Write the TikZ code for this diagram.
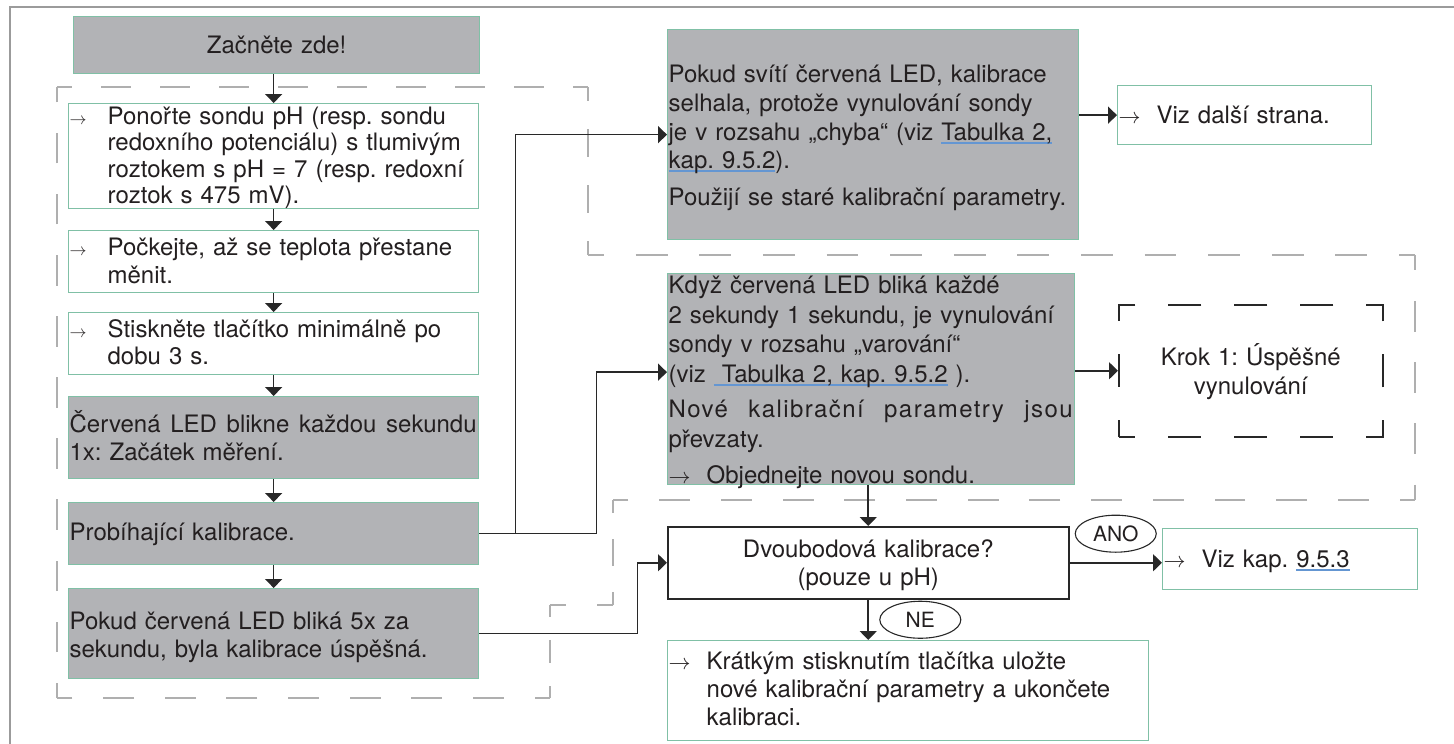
\documentclass[tikz,border=0pt]{standalone}
\usepackage{graphicx}
\usepackage{fontspec}
\setmainfont{TeX Gyre Heros}
\usetikzlibrary{arrows.meta,shapes.geometric}

\definecolor{boxgray}{RGB}{178,179,182}
\definecolor{boxgreen}{RGB}{128,192,166}
\definecolor{textdark}{RGB}{35,31,32}
\definecolor{lineblack}{RGB}{40,40,40}
\definecolor{framegray}{RGB}{155,155,155}
\definecolor{dashgray}{RGB}{175,175,175}
\definecolor{linkblue}{RGB}{100,150,210}

\newsavebox{\linkbox}
\newcommand{\boxfont}[1]{\fontsize{24}{#1}\selectfont}
\newcommand{\hangarr}[1]{\makebox[38pt][l]{\scalebox{#1}{\fontsize{10}{10}\selectfont$\rightarrow$}}}
\newcommand{\bluline}[1]{\leavevmode\sbox{\linkbox}{#1}\rlap{\textcolor{linkblue}{\rule[-3.5pt]{\wd\linkbox}{1.8pt}}}\usebox{\linkbox}}

\begin{document}
\frenchspacing
\begin{tikzpicture}[x=1pt,y=-1pt,
		stepbox/.style={draw=boxgreen, line width=1.3pt, fill=white, anchor=north west, inner xsep=1pt, inner ysep=0pt, align=left, text=textdark},
		graybox/.style={stepbox, fill=boxgray},
		askbox/.style={draw=lineblack, line width=1.5pt, fill=white, anchor=north west, inner sep=0pt, align=center, text=textdark},
		dashbox/.style={draw=lineblack, line width=1.5pt, dash pattern=on 33pt off 33pt, dash phase=16.5pt, anchor=north west, inner sep=0pt, align=center, text=textdark},
		groupline/.style={dashgray, line width=1.2pt},
		conn/.style={draw=lineblack, line width=1.6pt, -{Triangle[length=9pt,width=17pt]}},
		answer/.style={ellipse, draw=lineblack, line width=1.1pt, fill=white, inner sep=0pt, minimum width=81pt, minimum height=37pt, text=textdark, font=\fontsize{21}{21}\selectfont}]
		\useasboundingbox (0,0) rectangle (1454,744);
		
		% Draw frame and group outline.
		\draw[framegray, line width=2.5pt] (10,744) -- (10,7) -- (1454,7);
		\foreach \xa/\ya/\xb/\yb in {57/87/588/87, 588/87/588/255, 588/255/1415/255, 1415/255/1415/500, 1415/500/613/500, 613/500/613/605, 613/605/550/605, 550/605/550/698, 550/698/57/698, 57/698/57/87}{
			\pgfmathsetmacro{\len}{veclen(\xb-\xa,\yb-\ya)}
			\pgfmathsetmacro{\half}{\len/max(1,round(\len/62))/2}
			\pgfmathsetmacro{\quart}{\half/2}
			\draw[groupline, dash pattern=on \half pt off \half pt, dash phase=\quart pt] (\xa,\ya) -- (\xb,\yb);
		}
		
		% Left column.
		\node[graybox, text width=404pt, text height=37pt, text depth=20pt, align=center, font=\boxfont{27}] (start) at (73,16) {Začněte zde!};
		\node[stepbox, text width=408pt, text height=21pt, text depth=84pt, font=\boxfont{26.3}] (ponor) at (68,103) {\hangarr{1.7}\parbox[t]{368pt}{Ponořte sondu pH (resp. sondu\\redoxního potenciálu) s tlumivým\\roztokem s pH = 7 (resp. redoxní\\roztok s 475 mV).}};
		\node[stepbox, text width=408pt, text height=25pt, text depth=37pt, font=\boxfont{28}] (cekej) at (68,230) {\hangarr{1.7}\parbox[t]{368pt}{Počkejte, až se teplota přestane\\měnit.}};
		\node[stepbox, text width=408pt, text height=25pt, text depth=37pt, font=\boxfont{27}] (stisk) at (68,312) {\hangarr{1.7}\parbox[t]{368pt}{Stiskněte tlačítko minimálně po\\dobu 3 s.}};
		\node[graybox, text width=408pt, text height=36pt, text depth=46pt, font=\boxfont{28}] (blik) at (68,396) {\makebox[407pt][s]{Červená\hfill LED\hfill blikne\hfill každou\hfill sekundu}\\1x: Začátek měření.};
		\node[graybox, text width=408pt, text height=38pt, text depth=24pt, font=\boxfont{28}] (probiha) at (68,502) {Probíhající kalibrace.};
		\node[graybox, text width=408pt, text height=41pt, text depth=49pt, font=\boxfont{28}] (uspech) at (68,588) {Pokud červená LED bliká 5x za\\sekundu, byla kalibrace úspěšná.};
		
		% Right side.
		\node[graybox, text width=409pt, text height=53pt, text depth=157pt, font=\boxfont{28.7}] (chyba) at (667,29) {Pokud svítí červená LED, kalibrace\\selhala, protože vynulování sondy\\je v rozsahu „chyba“ (viz \bluline{Tabulka 2,}\\\bluline{kap. 9.5.2}).\\[8pt]Použijí se staré kalibrační parametry.};
		\node[stepbox, text width=252pt, text height=38pt, text depth=21pt, font=\boxfont{27}] (dalsi) at (1117,85) {\hangarr{2.2}Viz další strana.};
		\node[graybox, text width=405pt, text height=20pt, text depth=191pt, font=\boxfont{29.5}] (varov) at (667,273) {Když červená LED bliká každé\\2 sekundy 1 sekundu, je vynulování\\sondy v rozsahu „varování“\\(viz\ \bluline{\ Tabulka 2, kap. 9.5.2}\ ).\\[6pt]\makebox[404pt][s]{\addfontfeature{LetterSpace=6}Nové\hfill kalibrační\hfill parametry\hfill jsou}\\převzaty.\\[7pt]\hangarr{2.2}Objednejte novou sondu.};
		\node[dashbox, text width=264pt, text height=61pt, text depth=71pt, font=\boxfont{29}] (krok) at (1118,304) {Krok 1: Úspěšné\\vynulování};
		\node[askbox, text width=401pt, text height=31pt, text depth=41pt, font=\boxfont{28}] (dvoub) at (667,526) {Dvoubodová kalibrace?\\(pouze u pH)};
		\node[stepbox, text width=253pt, text height=39pt, text depth=22pt, font=\boxfont{27}] (kap) at (1162,528) {\hangarr{2.2}Viz kap. \bluline{9.5.3}};
		\node[stepbox, text width=479pt, text height=29pt, text depth=71pt, font=\boxfont{28}] (kratk) at (667,640) {\hangarr{2.2}\parbox[t]{440pt}{Krátkým stisknutím tlačítka uložte\\nové kalibrační parametry a ukončete\\kalibraci.}};
		
		% Draw arrows.
		\draw[conn] (ponor.north |- start.south) -- (ponor.north);
		\foreach \a/\b in {ponor/cekej, cekej/stisk, stisk/blik, blik/probiha, probiha/uspech}
			\draw[conn] (\a) -- (\b);
		\draw[conn] (probiha.east) -- ++(36,0) coordinate (split) |- (chyba.west);
		\draw[conn] (split) -- ++(81,0) |- ([yshift=7pt]varov.west);
		\draw[conn] (uspech.east) -- ++(158,0) |- (dvoub.west);
		\draw[conn] (chyba.east |- dalsi.west) -- (dalsi.west);
		\draw[conn] (varov.east |- krok.west) -- (krok.west);
		\draw[conn] (dvoub.north |- varov.south) -- (dvoub.north);
		\draw[conn] (dvoub.east) -- (dvoub.east -| kap.west) node[answer, midway, above=10pt] (ano) {ANO};
		\draw[conn] (dvoub.south) -- (dvoub.south |- kratk.north) node[answer, midway, right=11pt] (ne) {NE};
	\end{tikzpicture}
\end{document}
